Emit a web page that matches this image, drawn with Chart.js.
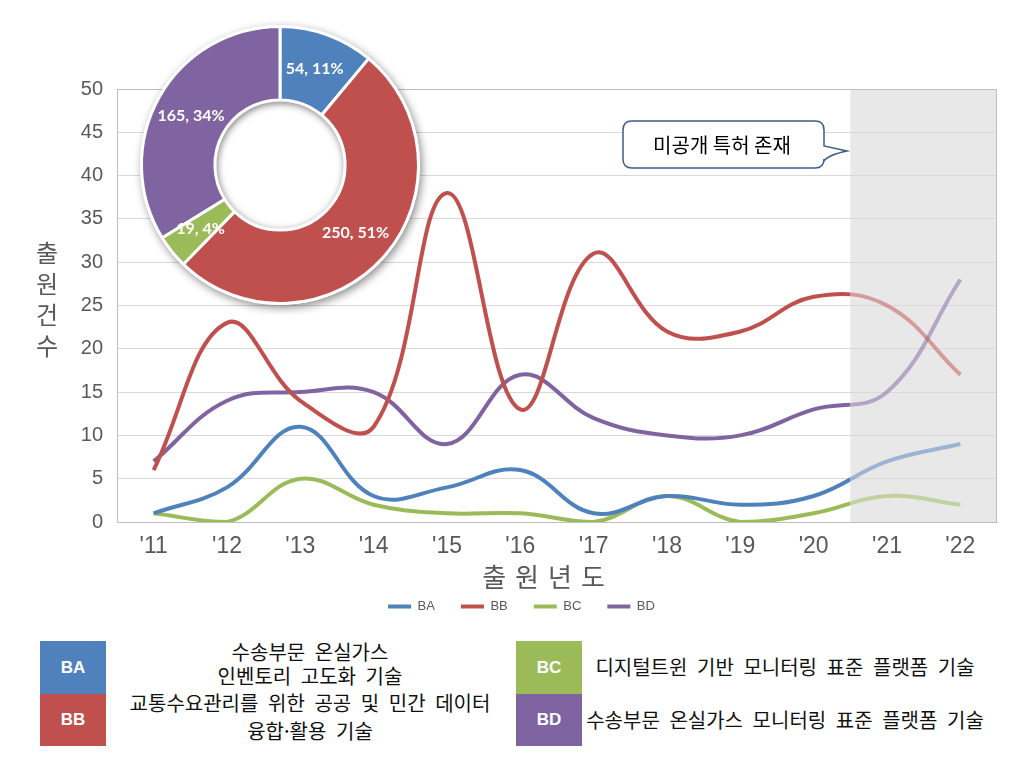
<!DOCTYPE html>
<html lang="ko">
<head>
<meta charset="utf-8">
<script src="https://cdn.jsdelivr.net/npm/chart.js@4.4.0/dist/chart.umd.min.js"></script>
<style>
  body { margin: 0; background: #fff; }
  #wrap { position: relative; width: 1016px; height: 764px; overflow: hidden; font-family: "Noto Sans CJK KR", sans-serif; }
  #lineChart { position: absolute; left: 0; top: 0; }
  #donutChart { position: absolute; left: 130px; top: 15px; }
  .code { position: absolute; width: 66px; color: #fff; font: bold 17px "Liberation Sans Narrow", "Liberation Sans", sans-serif; display: flex; align-items: center; justify-content: center; }
  .desc { position: absolute; width: 420px; height: 26px; line-height: 26px; text-align: center; font-size: 20px; color: #111; word-spacing: 4px; white-space: nowrap; }
</style>
</head>
<body>
<div id="wrap">
  <canvas id="lineChart" width="1016" height="623"></canvas>
  <canvas id="donutChart" width="300" height="300"></canvas>

  <div class="code" style="left:40px; top:641px; height:53px; background:#4f81bd;">BA</div>
  <div class="code" style="left:40px; top:694px; height:52px; background:#c0504d;">BB</div>
  <div class="code" style="left:516px; top:641px; height:53px; background:#9bbb59;">BC</div>
  <div class="code" style="left:516px; top:694px; height:52px; background:#8064a2;">BD</div>

  <div class="desc" style="left:100px; top:639px;">수송부문 온실가스</div>
  <div class="desc" style="left:100px; top:663px;">인벤토리 고도화 기술</div>
  <div class="desc" style="left:100px; top:690px;">교통수요관리를 위한 공공 및 민간 데이터</div>
  <div class="desc" style="left:100px; top:718px;">융합·활용 기술</div>
  <div class="desc" style="left:575px; top:654px;">디지털트윈 기반 모니터링 표준 플랫폼 기술</div>
  <div class="desc" style="left:575px; top:707px;">수송부문 온실가스 모니터링 표준 플랫폼 기술</div>
</div>

<script>
// data
const years = ["'11", "'12", "'13", "'14", "'15", "'16", "'17", "'18", "'19", "'20", "'21", "'22"];
const baValues = [1, 4, 11, 3, 4, 6, 1, 3, 2, 3, 7, 9];
const bbValues = [6, 23, 14, 11, 38, 13, 31, 22, 22, 26, 25, 17];
const bcValues = [1, 0, 5, 2, 1, 1, 0, 3, 0, 1, 3, 2];
const bdValues = [7, 14, 15, 15, 9, 17, 12, 10, 10, 13, 15, 28];
const seriesNames = ["BA", "BB", "BC", "BD"];
const seriesColors = ["#4f81bd", "#c0504d", "#9bbb59", "#8064a2"];
const fadedColors = ["rgba(79,129,189,0.5)", "rgba(192,80,77,0.5)", "rgba(155,187,89,0.5)", "rgba(128,100,162,0.5)"];
const donutValues = [54, 250, 19, 165];

// shaded region starts halfway between '20 and '21
const shadeFrom = 9.5;

function fadeStroke(i) {
  return (ctx) => {
    const chart = ctx.chart;
    const area = chart.chartArea;
    if (!area) return seriesColors[i];
    const x = chart.scales.x.getPixelForValue(shadeFrom);
    const stop = Math.min(Math.max((x - area.left) / (area.right - area.left), 0), 1);
    const g = chart.ctx.createLinearGradient(area.left, 0, area.right, 0);
    g.addColorStop(0, seriesColors[i]);
    g.addColorStop(stop, seriesColors[i]);
    g.addColorStop(stop, fadedColors[i]);
    g.addColorStop(1, fadedColors[i]);
    return g;
  };
}

const shadePlugin = {
  id: "shade",
  afterLayout(chart) {
    // nudge legend a bit right, like the original
    chart.legend.left += 23;
    chart.legend.right += 23;
  },
  beforeDraw(chart) {
    const { ctx, chartArea } = chart;
    const x = chart.scales.x.getPixelForValue(shadeFrom);
    ctx.save();
    ctx.fillStyle = "#e8e8e8";
    ctx.fillRect(x, chartArea.top, chartArea.right - x, chartArea.bottom - chartArea.top);
    ctx.restore();
  },
  beforeDatasetsDraw(chart) {
    // frame on top and right
    const { ctx, chartArea } = chart;
    ctx.save();
    ctx.strokeStyle = "#bfbfbf";
    ctx.lineWidth = 1;
    ctx.beginPath();
    ctx.moveTo(chartArea.left, chartArea.top + 0.5);
    ctx.lineTo(chartArea.right - 0.5, chartArea.top + 0.5);
    ctx.lineTo(chartArea.right - 0.5, chartArea.bottom);
    ctx.stroke();
    ctx.restore();
  },
};

const titlesPlugin = {
  id: "titles",
  afterDraw(chart) {
    const ctx = chart.ctx;
    ctx.save();
    ctx.fillStyle = "#595959";
    ctx.textAlign = "center";
    ctx.textBaseline = "middle";
    // y title, stacked characters
    ctx.font = '24px "Noto Sans CJK KR", sans-serif';
    ["출", "원", "건", "수"].forEach((c, k) => ctx.fillText(c, 47, 253 + k * 31));
    // x title
    ctx.font = '26px "Noto Sans CJK KR", sans-serif';
    ctx.letterSpacing = "9px";
    ctx.fillText("출원년도", 548, 577);
    ctx.letterSpacing = "0px";

    // callout
    const l = 623, t = 121, r = 824, b = 168, rad = 9;
    ctx.beginPath();
    ctx.moveTo(l + rad, t);
    ctx.lineTo(r - rad, t);
    ctx.quadraticCurveTo(r, t, r, t + rad);
    ctx.lineTo(r, 146);
    ctx.lineTo(847, 151);
    ctx.quadraticCurveTo(828, 155, r, 161);
    ctx.lineTo(r, b - rad);
    ctx.quadraticCurveTo(r, b, r - rad, b);
    ctx.lineTo(l + rad, b);
    ctx.quadraticCurveTo(l, b, l, b - rad);
    ctx.lineTo(l, t + rad);
    ctx.quadraticCurveTo(l, t, l + rad, t);
    ctx.closePath();
    ctx.fillStyle = "#fff";
    ctx.fill();
    ctx.strokeStyle = "#3e5c8a";
    ctx.lineWidth = 1.5;
    ctx.stroke();
    ctx.fillStyle = "#000";
    ctx.font = '20px "Noto Sans CJK KR", sans-serif';
    ctx.fillText("미공개 특허 존재", 722, 145);
    ctx.restore();
  },
};

const lineChart = new Chart(document.getElementById("lineChart"), {
  type: "line",
  data: {
    labels: years,
    datasets: [baValues, bbValues, bcValues, bdValues].map((vals, i) => ({
      label: seriesNames[i],
      data: vals,
      borderColor: fadeStroke(i),
      backgroundColor: seriesColors[i],
      borderWidth: 4,
      pointRadius: 0,
      tension: 0.4,
      fill: false,
    })),
  },
  options: {
    responsive: false,
    animation: false,
    layout: { padding: { left: 0, top: 89, right: 19, bottom: 0 } },
    scales: {
      x: {
        offset: true,
        grid: { display: false, drawTicks: false },
        border: { color: "#bfbfbf" },
        ticks: {
          color: "#595959",
          padding: 11,
          font: { family: "'Liberation Sans Narrow', 'Liberation Sans', sans-serif", size: 23 },
        },
        afterFit(scale) { scale.height = 52; },
      },
      y: {
        min: 0,
        max: 50,
        ticks: {
          stepSize: 5,
          color: "#595959",
          padding: 14,
          font: { family: "'Liberation Sans', Arial, sans-serif", size: 20 },
        },
        grid: { color: "#d9d9d9", drawTicks: false },
        border: { color: "#bfbfbf" },
        afterFit(scale) { scale.width = 117; },
      },
    },
    plugins: {
      tooltip: { enabled: false },
      legend: {
        position: "bottom",
        labels: {
          boxWidth: 23,
          boxHeight: 4,
          padding: 26,
          color: "#595959",
          font: { family: "'Liberation Sans Narrow', 'Liberation Sans', sans-serif", size: 13 },
          generateLabels: () => seriesNames.map((n, i) => ({
            text: n,
            fillStyle: seriesColors[i],
            strokeStyle: seriesColors[i],
            lineWidth: 0,
            fontColor: "#595959",
            hidden: false,
            datasetIndex: i,
          })),
        },
      },
    },
  },
  plugins: [shadePlugin, titlesPlugin],
});

// donut inset
const ringPlugin = {
  id: "ring",
  beforeDatasetsDraw(chart) {
    const arc = chart.getDatasetMeta(0).data[0];
    if (!arc) return;
    const { x, y, outerRadius } = arc.getProps(["x", "y", "outerRadius"]);
    const ctx = chart.ctx;
    ctx.save();
    ctx.shadowColor = "rgba(0,0,0,0.45)";
    ctx.shadowBlur = 8;
    ctx.shadowOffsetX = 2;
    ctx.shadowOffsetY = 3;
    ctx.fillStyle = "#fff";
    ctx.beginPath();
    ctx.arc(x, y, outerRadius + 1.5, 0, Math.PI * 2);
    ctx.fill();
    ctx.restore();
  },
  afterDatasetsDraw(chart) {
    const meta = chart.getDatasetMeta(0);
    const arc = meta.data[0];
    if (!arc) return;
    const { x, y, innerRadius } = arc.getProps(["x", "y", "innerRadius"]);
    const ctx = chart.ctx;
    // inner shadow in the hole
    ctx.save();
    ctx.beginPath();
    ctx.arc(x, y, innerRadius - 1.5, 0, Math.PI * 2);
    ctx.clip();
    ctx.shadowColor = "rgba(0,0,0,0.5)";
    ctx.shadowBlur = 7;
    ctx.shadowOffsetX = 1;
    ctx.shadowOffsetY = 2;
    ctx.strokeStyle = "#fff";
    ctx.lineWidth = 14;
    ctx.beginPath();
    ctx.arc(x, y, innerRadius + 5.5, 0, Math.PI * 2);
    ctx.stroke();
    ctx.restore();

    // labels
    const total = donutValues.reduce((a, b) => a + b, 0);
    ctx.save();
    ctx.fillStyle = "#fff";
    ctx.font = 'bold 16px Lato, "Noto Sans", sans-serif';
    ctx.textAlign = "center";
    ctx.textBaseline = "middle";
    meta.data.forEach((el, i) => {
      const p = el.tooltipPosition();
      const v = donutValues[i];
      ctx.fillText(v + ", " + Math.round((v / total) * 100) + "%", p.x, p.y);
    });
    ctx.restore();
  },
};

const donutChart = new Chart(document.getElementById("donutChart"), {
  type: "doughnut",
  data: {
    labels: seriesNames,
    datasets: [{
      data: donutValues,
      backgroundColor: seriesColors,
      borderColor: "#fff",
      borderWidth: 3,
    }],
  },
  options: {
    responsive: false,
    animation: false,
    cutout: "47%",
    layout: { padding: 10 },
    plugins: { legend: { display: false }, tooltip: { enabled: false } },
  },
  plugins: [ringPlugin],
});
</script>
</body>
</html>
